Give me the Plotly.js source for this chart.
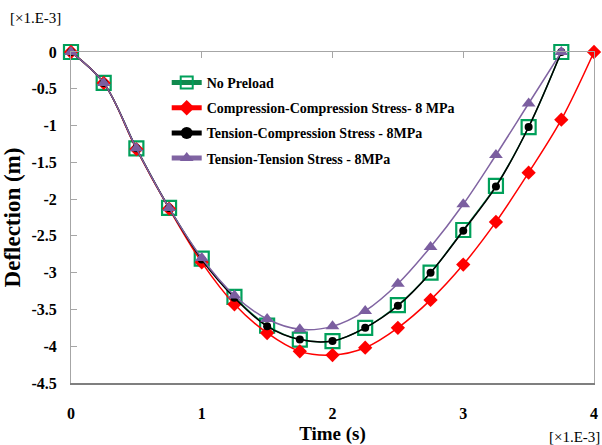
<!DOCTYPE html>
<html>
<head>
<meta charset="utf-8">
<script src="https://cdn.plot.ly/plotly-3.0.1.min.js"></script>
<style>html,body{margin:0;padding:0;background:#fff;}#chart{width:602px;height:445px;}</style>
</head>
<body>
<div id="chart"></div>
<script>
// Data (time in ×1e-3 s, deflection in ×1e-3 m)
const timeA = [0, 0.25, 0.5, 0.75, 1.0, 1.25, 1.5, 1.75, 2.0, 2.25, 2.5, 2.75, 3.0, 3.25, 3.5, 3.75];
const timeCC = [0, 0.25, 0.5, 0.75, 1.0, 1.25, 1.5, 1.75, 2.0, 2.25, 2.5, 2.75, 3.0, 3.25, 3.5, 3.75, 4.0];
const noPreload = [0, -0.42, -1.31, -2.12, -2.81, -3.33, -3.72, -3.91, -3.93, -3.75, -3.44, -3.00, -2.42, -1.82, -1.02, 0];
const compComp = [0, -0.42, -1.32, -2.13, -2.86, -3.43, -3.82, -4.07, -4.12, -4.02, -3.75, -3.37, -2.89, -2.31, -1.64, -0.92, 0];
const tensComp = [0, -0.42, -1.31, -2.12, -2.82, -3.34, -3.73, -3.91, -3.93, -3.75, -3.45, -3.00, -2.43, -1.83, -1.02, 0];
const tensTens = [0, -0.42, -1.31, -2.12, -2.80, -3.31, -3.63, -3.77, -3.73, -3.52, -3.15, -2.65, -2.07, -1.40, -0.70, 0];
const seriesNames = ['No Preload', 'Compression-Compression Stress- 8 MPa', 'Tension-Compression Stress - 8MPa', 'Tension-Tension Stress - 8MPa'];
const yTickVals = [0, -0.5, -1, -1.5, -2, -2.5, -3, -3.5, -4, -4.5];
const xTickVals = [0, 1, 2, 3, 4];
const unitLabel = '[\u00d71.E-3]';

const serif = 'Liberation Serif, Times New Roman, serif';
const traces = [
  {x: timeA, y: noPreload, name: seriesNames[0], mode: 'lines+markers', cliponaxis: false,
   line: {color: '#108a4e', width: 1.5, shape: 'spline', smoothing: 1},
   marker: {symbol: 'square-open', size: 14, color: '#00a05a', line: {width: 2.2, color: '#00a05a'}}, legendgroup: 'a'},
  {x: timeCC, y: compComp, name: seriesNames[1], mode: 'lines+markers', cliponaxis: false,
   line: {color: '#ff0000', width: 1.5, shape: 'spline', smoothing: 1},
   marker: {symbol: 'diamond', size: 11, color: '#ff0000'}, legendgroup: 'b'},
  {x: timeA, y: tensComp, name: seriesNames[2], mode: 'lines+markers', cliponaxis: false,
   line: {color: '#000000', width: 1.5, shape: 'spline', smoothing: 1},
   marker: {symbol: 'circle', size: 8, color: '#000000'}, legendgroup: 'c'},
  {x: timeA, y: tensTens, name: seriesNames[3], mode: 'lines+markers', cliponaxis: false,
   line: {color: '#8064a2', width: 1.5, shape: 'spline', smoothing: 1},
   marker: {symbol: 'triangle-up', size: 12, color: '#7b5ea0'}, legendgroup: 'd'},
  {x: [], y: [], xaxis: 'x2', showlegend: false, hoverinfo: 'skip'}
];

const layout = {
  width: 602, height: 445,
  margin: {l: 71, r: 8, t: 52, b: 62},
  paper_bgcolor: '#fff', plot_bgcolor: '#fff',
  font: {family: serif, color: '#000'},
  showlegend: true,
  legend: {x: 0.183, y: 0.955, xanchor: 'left', yanchor: 'top', bgcolor: 'rgba(0,0,0,0)',
           font: {family: serif, size: 14, weight: 'bold', color: '#000'},
           itemwidth: 30, itemsizing: 'constant', tracegroupgap: 4, traceorder: 'grouped'},
  xaxis: {range: [0, 4], tickvals: xTickVals, ticks: '', showgrid: false, zeroline: false,
          showline: true, linecolor: '#7f7f7f', linewidth: 1.5, ticklabelstandoff: 15,
          tickfont: {family: serif, size: 16, weight: 'bold', color: '#000'},
          title: {text: 'Time (s)', font: {family: serif, size: 19, weight: 'bold', color: '#000'}}},
  xaxis2: {overlaying: 'x', matches: 'x', side: 'top', range: [0, 4], tickvals: xTickVals, showticklabels: false,
           ticks: 'inside', ticklen: 6, tickcolor: '#a6a6a6', showgrid: false, zeroline: false,
           showline: true, linecolor: '#a6a6a6', linewidth: 1},
  yaxis: {range: [-4.5, 0], tickvals: yTickVals, ticktext: yTickVals.map(String), ticks: 'inside', ticklen: 6,
          tickcolor: '#a6a6a6', showgrid: false, zeroline: false, showline: true, mirror: true,
          linecolor: '#a6a6a6', linewidth: 1, ticklabelstandoff: 10,
          tickfont: {family: serif, size: 16, weight: 'bold', color: '#000'},
          title: {text: 'Deflection (m)', font: {family: serif, size: 23, weight: 'bold', color: '#000'}}},
  annotations: [
    {text: unitLabel, xref: 'paper', yref: 'paper', x: -0.067, y: 1.103, xanchor: 'center', yanchor: 'middle',
     showarrow: false, font: {family: serif, size: 15, color: '#000'}},
    {text: unitLabel, xref: 'paper', yref: 'paper', x: 0.962, y: -0.163, xanchor: 'center', yanchor: 'middle',
     showarrow: false, font: {family: serif, size: 15, color: '#000'}}
  ]
};

Plotly.newPlot('chart', traces, layout, {displayModeBar: false, staticPlot: true});
</script>
</body>
</html>
